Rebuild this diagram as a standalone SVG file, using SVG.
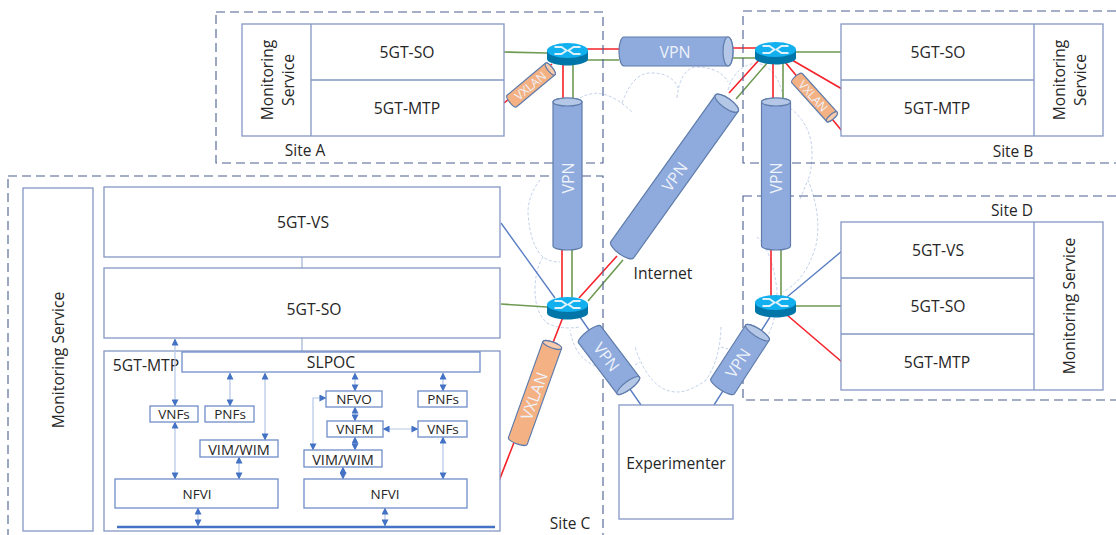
<svg xmlns="http://www.w3.org/2000/svg" width="1116" height="535" viewBox="0 0 1116 535">
<style>
text{font-family:"Open Sans","Liberation Sans",sans-serif;font-size:15.700px;fill:#262626;text-anchor:middle;dominant-baseline:central}
.box{fill:#fff;stroke:#8497c4;stroke-width:1.3}
.sbox{fill:#fff;stroke:#6f8cc8;stroke-width:1.3}
.site{fill:none;stroke:#4a6090;stroke-width:1.1;stroke-dasharray:9 5}
.r{stroke:#f5222a;stroke-width:1.6;fill:none}
.g{stroke:#6f9a52;stroke-width:1.6;fill:none}
.b{stroke:#5b7fc4;stroke-width:1.4;fill:none}
.a{stroke:#b4c7e7;stroke-width:1.2;fill:none;marker-start:url(#ah);marker-end:url(#ah)}
.c{stroke:#c0d0ea;stroke-width:1;stroke-dasharray:3 2;fill:none}
.tv path{fill:#8faadc;stroke:#5f7cab;stroke-width:1.2}
.tv ellipse{fill:#b4c7e7;stroke:#5f7cab;stroke-width:1.2}
.tx path{fill:#f4b183;stroke:#5f7cab;stroke-width:1.2}
.tx ellipse{fill:#f8cbad;stroke:#5f7cab;stroke-width:1.2}
.tt{fill:#eef2fa;font-size:16px}
.tts{fill:#eef2fa;font-size:12px}
.sm{font-size:13.500px}
.vw{font-size:14.500px}
.st{font-size:15.500px}
</style>
<defs>
<marker id="ah" viewBox="0 0 8 8" refX="7.5" refY="4" markerWidth="7" markerHeight="7" markerUnits="userSpaceOnUse" orient="auto-start-reverse"><path d="M0 0L8 4L0 8Z" fill="#4472c4"/></marker>
<g id="router">
<path d="M-20.500 -3V6C-20.500 10 -9 12.500 0 12.500S20.500 10 20.500 6V-3Z" fill="#0076a8"/>
<ellipse cx="0" cy="-2.500" rx="20.500" ry="7.500" fill="#12b0ee"/>
<path d="M-13 -6H-6L-1 -2.500L-6 1H-13M13 -6H6L1 -2.500L6 1H13" fill="none" stroke="#dff2fb" stroke-width="2"/>
</g>
</defs>

<g id="cloud">
<path class="c" d="M580 98Q603 84 632 112"/>
<path class="c" d="M622 103Q633 72 652 73Q672 73 678 88"/>
<path class="c" d="M677 98Q680 70 695 67Q720 67 728 82"/>
<path class="c" d="M728 90Q735 65 757 63Q778 68 783 97"/>
<path class="c" d="M790 108Q812 125 812 153Q812 170 808 180"/>
<path class="c" d="M800 199L808 180Q822 215 816 245Q806 280 783 292"/>
<path class="c" d="M757 237Q772 250 777 290Q777 320 767 337"/>
<path class="c" d="M721 327Q720 360 706 380Q690 392 677 392Q650 392 635 347"/>
<path class="c" d="M721 347L728 349M635 365L640 362"/>
<path class="c" d="M600 368Q575 360 570 330"/>
<path class="c" d="M543 257Q535 270 535 290Q535 312 547 323Q560 330 580 327"/>
<path class="c" d="M540 180Q528 195 528 213Q530 245 543 257Q550 262 560 262"/>
</g>

<g id="connectors">
<path class="g" d="M504 52L547 53M585 60H619M573 63V98M733 58H757M796 52H841M768 62L736 99M783 62V98M572 250V299M623 260L588 301M501 304L547 307M781 250V297M796 306H842"/>
<path class="r" d="M585 49H619M563 63V98M733 48H757M759 60L729 93M773 62V98M792 60L842 89M785 62L842 131M504 103L552 64M562 250V299M617 256L579 298M563 317L481 527M771 250V297M787 315L842 362"/>
<path class="b" d="M501 223L555 298M580 317L641 405M787 297L842 251M770 317L714 405"/>
<path d="M302 257V268M302 338V352" stroke="#a9b8d6" stroke-width="1.300" fill="none"/>
</g>

<g id="site-a"><rect class="site" x="216" y="12" width="387" height="151"/><text x="305" y="150" class="st">Site A</text></g>
<g id="site-b"><rect class="site" x="743" y="11" width="380" height="152"/><text x="1013" y="151" class="st">Site B</text></g>
<g id="site-c"><rect class="site" x="8" y="176" width="595" height="370"/><text x="570" y="523" class="st">Site C</text></g>
<g id="site-d"><rect class="site" x="743" y="196" width="380" height="204"/><text x="1012" y="210" class="st">Site D</text></g>

<g id="node-a">
<rect class="box" x="242" y="24" width="262" height="112"/>
<path class="box" d="M311 24V136M311 80H504"/>
<text transform="translate(267 80) rotate(-90)">Monitoring</text>
<text transform="translate(288 80) rotate(-90)">Service</text>
<text x="407" y="52">5GT-SO</text>
<text x="407" y="108">5GT-MTP</text>
</g>
<g id="node-b">
<rect class="box" x="841" y="24" width="262" height="112"/>
<path class="box" d="M1034 24V136M841 80H1034"/>
<text transform="translate(1059 80) rotate(-90)">Monitoring</text>
<text transform="translate(1080 80) rotate(-90)">Service</text>
<text x="938" y="52">5GT-SO</text>
<text x="937" y="108">5GT-MTP</text>
</g>
<g id="node-d">
<rect class="box" x="841" y="222" width="262" height="168"/>
<path class="box" d="M1034 222V390M841 278H1034M841 334H1034"/>
<text x="938" y="250">5GT-VS</text>
<text x="938" y="306">5GT-SO</text>
<text x="937" y="362">5GT-MTP</text>
<text transform="translate(1069 306) rotate(-90)">Monitoring Service</text>
</g>
<g id="node-c-monitoring"><rect class="box" x="23" y="188" width="70" height="343"/><text transform="translate(58 360) rotate(-90)">Monitoring Service</text></g>
<g id="node-c-vs"><rect class="box" x="104" y="187" width="396" height="70"/><text x="303" y="222">5GT-VS</text></g>
<g id="node-c-so"><rect class="box" x="104" y="268" width="396" height="70"/><text x="314" y="309">5GT-SO</text></g>

<g id="node-c-mtp">
<rect class="box" x="104" y="351" width="396" height="180"/>
<text x="146" y="365">5GT-MTP</text>
</g>
<g id="mtp-arrows">
<path class="a" d="M175 339V406"/>
<path class="a" d="M175 422V479"/>
<path class="a" d="M230 373V406"/>
<path class="a" d="M265 373V440"/>
<path class="a" d="M239 457V479"/>
<path class="a" d="M355 373V391"/>
<path class="a" d="M355 407V421"/>
<path class="a" d="M355 437V450"/>
<path class="a" d="M443 373V391"/>
<path class="a" d="M443 437V479"/>
<path class="a" d="M343 467V479"/>
<path class="a" d="M198 508V526"/>
<path class="a" d="M385 508V526"/>
<path class="a" d="M326 398H313V450"/>
<path class="a" d="M383 429H418"/>
<path d="M117 527H495" stroke="#4472c4" stroke-width="2.500" fill="none"/>
</g>
<g id="slpoc"><rect class="sbox" x="182" y="352" width="298" height="20"/><text x="331" y="362">SLPOC</text></g>
<g id="vnfs-l"><rect class="sbox" x="150" y="406" width="48" height="16"/><text x="174" y="414" class="sm">VNFs</text></g>
<g id="pnfs-l"><rect class="sbox" x="205" y="406" width="49" height="16"/><text x="230" y="414" class="sm">PNFs</text></g>
<g id="vim-l"><rect class="sbox" x="200" y="440" width="78" height="17"/><text x="239" y="449" class="vw">VIM/WIM</text></g>
<g id="nfvi-l"><rect class="sbox" x="115" y="479" width="163" height="29"/><text x="197" y="494" class="sm">NFVI</text></g>
<g id="nfvo"><rect class="sbox" x="326" y="391" width="56" height="16"/><text x="354" y="399" class="sm">NFVO</text></g>
<g id="pnfs-r"><rect class="sbox" x="418" y="391" width="49" height="16"/><text x="443" y="399" class="sm">PNFs</text></g>
<g id="vnfm"><rect class="sbox" x="327" y="421" width="56" height="16"/><text x="355" y="429" class="sm">VNFM</text></g>
<g id="vnfs-r"><rect class="sbox" x="418" y="421" width="49" height="16"/><text x="443" y="429" class="sm">VNFs</text></g>
<g id="vim-r"><rect class="sbox" x="304" y="450" width="78" height="17"/><text x="343" y="459" class="vw">VIM/WIM</text></g>
<g id="nfvi-r"><rect class="sbox" x="304" y="479" width="163" height="29"/><text x="385" y="494" class="sm">NFVI</text></g>

<g id="experimenter"><rect class="box" x="619" y="405" width="114" height="114"/><text x="676" y="463">Experimenter</text></g>
<text x="663" y="273">Internet</text>

<g id="tube-vpn-top" class="tv" transform="translate(676 51.500)"><path d="M-52 -14.500H52A5 14.500 0 0 1 52 14.500H-52A5 14.500 0 0 1 -52 -14.500Z"/><ellipse cx="52" cy="0" rx="5" ry="14.500"/><text class="tt" x="-1" y="0">VPN</text></g>
<g id="tube-vpn-l" class="tv" transform="translate(567.500 174) rotate(-90)"><path d="M-72 -14.500H72A4 14.500 0 0 1 72 14.500H-72A4 14.500 0 0 1 -72 -14.500Z"/><ellipse cx="72" cy="0" rx="4" ry="14.500"/><text class="tt" x="-4" y="0">VPN</text></g>
<g id="tube-vpn-r" class="tv" transform="translate(776 174) rotate(-90)"><path d="M-72 -14.500H72A4 14.500 0 0 1 72 14.500H-72A4 14.500 0 0 1 -72 -14.500Z"/><ellipse cx="72" cy="0" rx="4" ry="14.500"/><text class="tt" x="-4" y="0">VPN</text></g>
<g id="tube-vpn-diag" class="tv" transform="translate(674.500 176.500) rotate(-54.500)"><path d="M-90 -14H90A5 14 0 0 1 90 14H-90A5 14 0 0 1 -90 -14Z"/><ellipse cx="90" cy="0" rx="5" ry="14"/><text class="tt" x="0" y="0">VPN</text></g>
<g id="tube-vpn-c" class="tv" transform="translate(609 360) rotate(52.900)"><path d="M-32 -14H32A4 14 0 0 1 32 14H-32A4 14 0 0 1 -32 -14Z"/><ellipse cx="32" cy="0" rx="4" ry="14"/><text class="tt" x="-4" y="0">VPN</text></g>
<g id="tube-vpn-d" class="tv" transform="translate(740 359.500) rotate(-57)"><path d="M-32 -14H32A4 14 0 0 1 32 14H-32A4 14 0 0 1 -32 -14Z"/><ellipse cx="32" cy="0" rx="4" ry="14"/><text class="tt" x="-4" y="0">VPN</text></g>
<g id="tube-vxlan-a" class="tx" transform="translate(531 85) rotate(-39.900)"><path d="M-25 -7.500H25A2.500 7.500 0 0 1 25 7.500H-25A2.500 7.500 0 0 1 -25 -7.500Z"/><ellipse cx="25" cy="0" rx="2.500" ry="7.500"/><text class="tts" x="-1" y="0">VXLAN</text></g>
<g id="tube-vxlan-b" class="tx" transform="translate(814.500 97.500) rotate(47.900)"><path d="M-26 -7H26A2.500 7 0 0 1 26 7H-26A2.500 7 0 0 1 -26 -7Z"/><ellipse cx="26" cy="0" rx="2.500" ry="7"/><text class="tts" x="-2" y="0">VXLAN</text></g>
<g id="tube-vxlan-c" class="tx" transform="translate(535 393) rotate(-70.300)"><path d="M-51 -10H51A3 10 0 0 1 51 10H-51A3 10 0 0 1 -51 -10Z"/><ellipse cx="51" cy="0" rx="3" ry="10"/><text class="tt" x="-3" y="0">VXLAN</text></g>

<g id="router-a"><use href="#router" x="567.500" y="53"/></g>
<g id="router-b"><use href="#router" x="775.500" y="52"/></g>
<g id="router-c"><use href="#router" x="567.500" y="307"/></g>
<g id="router-d"><use href="#router" x="775.500" y="305"/></g>
</svg>
